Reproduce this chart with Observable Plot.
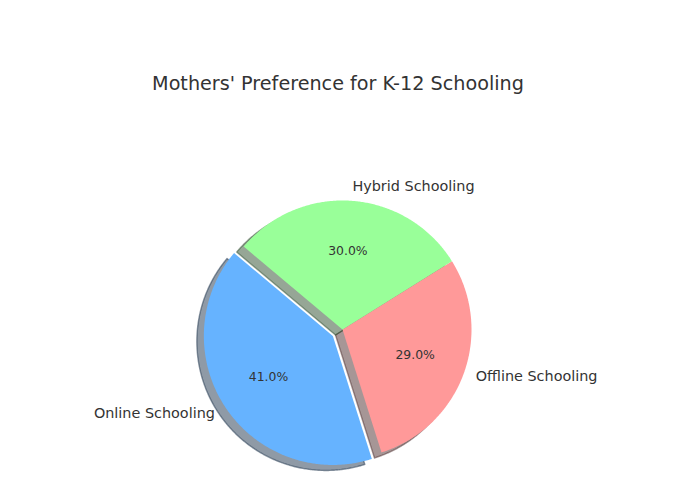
<!DOCTYPE html>
<html><head><meta charset="utf-8">
<script src="https://cdn.jsdelivr.net/npm/d3@7"></script>
<script src="https://cdn.jsdelivr.net/npm/@observablehq/plot@0.6"></script>
<style>html,body{margin:0;padding:0;background:#fff;}</style>
</head><body><div id="chart"></div>
<script>
const categories = ["Online Schooling", "Offline Schooling", "Hybrid Schooling"];
const shares = [41, 29, 30];
const colors = ["#66b3ff", "#ff9999", "#99ff99"];
const explode = [0.09, 0, 0];
const title = "Mothers' Preference for K-12 Schooling";
const startAngle = 140;

const total = d3.sum(shares);
let acc = startAngle;
const slices = categories.map((c, i) => {
  const a0 = acc, a1 = acc + shares[i] / total * 360; acc = a1;
  const mid = (a0 + a1) / 2 * Math.PI / 180;
  return {name: c, value: shares[i], color: colors[i], a0, a1, mid,
    ox: explode[i] * Math.cos(mid), oy: explode[i] * Math.sin(mid)};
});
const outline = slices.flatMap(s => {
  const pts = [{name: s.name, x: s.ox, y: s.oy}];
  const n = Math.ceil((s.a1 - s.a0) / 0.5);
  for (let k = 0; k <= n; k++) {
    const t = (s.a0 + (s.a1 - s.a0) * k / n) * Math.PI / 180;
    pts.push({name: s.name, x: s.ox + Math.cos(t), y: s.oy + Math.sin(t)});
  }
  pts.push({name: s.name, x: s.ox, y: s.oy});
  return pts;
});
const colorOf = name => slices.find(s => s.name === name).color;
const shadowOf = name => { const c = d3.rgb(colorOf(name)); return d3.rgb(c.r * 0.3, c.g * 0.3, c.b * 0.3).formatHex(); };
const lx = (s, d) => s.ox + d * Math.cos(s.mid);
const ly = (s, d) => s.oy + d * Math.sin(s.mid);

const chart = Plot.plot({
  width: 678, height: 490, margin: 0,
  x: {domain: [-1, 1], range: [213, 471], axis: null},
  y: {domain: [-1, 1], range: [458, 200], axis: null},
  color: {type: "identity"},
  style: {fontFamily: "DejaVu Sans, sans-serif", background: "#fff", color: "#333"},
  marks: [
    Plot.line(outline, {x: "x", y: "y", z: "name", fill: d => shadowOf(d.name), fillOpacity: 0.5,
      stroke: d => shadowOf(d.name), strokeOpacity: 0.5, strokeWidth: 1.4, dx: -7, dy: 5.5, curve: "linear"}),
    Plot.line(outline, {x: "x", y: "y", z: "name", fill: d => colorOf(d.name), stroke: null, curve: "linear"}),
    Plot.text(slices.filter(s => Math.cos(s.mid) < 0), {x: s => lx(s, 1.1), y: s => ly(s, 1.1), text: "name",
      textAnchor: "end", fontSize: 14.4, dy: -2, fill: "#333"}),
    Plot.text(slices.filter(s => Math.cos(s.mid) >= 0), {x: s => lx(s, 1.1), y: s => ly(s, 1.1), text: "name",
      textAnchor: "start", fontSize: 14.4, dy: -2, fill: "#333"}),
    Plot.text(slices, {x: s => lx(s, 0.6), y: s => ly(s, 0.6), text: s => (s.value / total * 100).toFixed(1) + "%",
      fontSize: 12.4, dy: -1.5, fill: "#333"}),
    Plot.text([title], {frameAnchor: "top", dy: 76, dx: -1.5, fontSize: 19.2, fill: "#333"})
  ]
});
document.getElementById("chart").appendChild(chart);
</script>
</body></html>
